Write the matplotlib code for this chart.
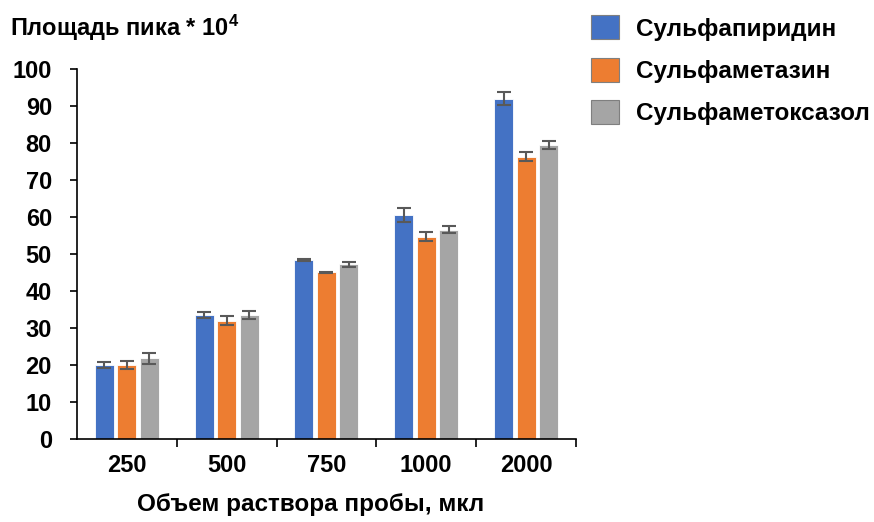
import matplotlib.pyplot as plt
import numpy as np
from matplotlib.patches import Patch

plt.rcParams['font.family'] = ['Liberation Sans', 'DejaVu Sans']
plt.rcParams['font.weight'] = 'bold'
plt.rcParams['mathtext.fontset'] = 'custom'
plt.rcParams['mathtext.rm'] = 'Liberation Sans:bold'
plt.rcParams['mathtext.bf'] = 'Liberation Sans:bold'
plt.rcParams['mathtext.default'] = 'bf'

# data
volumes = ["250", "500", "750", "1000", "2000"]
series = ["Сульфапиридин", "Сульфаметазин", "Сульфаметоксазол"]
sulfapyridine = [20.0, 33.5, 48.3, 60.5, 92.0]
sulfamethazine = [20.0, 32.0, 45.0, 54.7, 76.3]
sulfamethoxazole = [21.8, 33.5, 47.2, 56.6, 79.5]
err_pyridine = [0.9, 0.8, 0.3, 1.9, 1.7]
err_methazine = [1.2, 1.1, 0.2, 1.2, 1.2]
err_methoxazole = [1.5, 1.1, 0.7, 0.9, 1.1]

colors = ['#4472C4', '#ED7D31', '#A5A5A5']

fig = plt.figure(figsize=(8.74, 5.22), dpi=100)
ax = fig.add_axes([0.088, 0.159, 0.571, 0.709])

x = np.arange(len(volumes))
width = 0.19
offset = 0.225
values = [sulfapyridine, sulfamethazine, sulfamethoxazole]
errors = [err_pyridine, err_methazine, err_methoxazole]
for i, (vals, errs) in enumerate(zip(values, errors)):
    ax.bar(x + (i - 1) * offset, vals, width, color=colors[i], edgecolor='white',
           linewidth=0.6, yerr=errs, capsize=5,
           error_kw=dict(ecolor='#595959', elinewidth=1.5, capthick=1.5))

ax.set_xlim(-0.5, len(volumes) - 0.5)
ax.set_ylim(0, 100)
ax.set_yticks(range(0, 101, 10))
ax.set_xticks(x)
ax.set_xticklabels(volumes)
ax.set_xticks(np.arange(0.5, len(volumes) - 0.5 + 0.01, 1.0), minor=True)
ax.tick_params(axis='x', which='major', length=0, labelsize=17, pad=11)
ax.tick_params(axis='x', which='minor', length=6, width=1.2, direction='out')
ax.tick_params(axis='y', length=5, width=1.2, labelsize=17, pad=13)
for lbl in ax.get_xticklabels() + ax.get_yticklabels():
    lbl.set_fontweight('bold')
ax.spines['top'].set_visible(False)
ax.spines['right'].set_visible(False)
ax.spines['left'].set_linewidth(1.2)
ax.spines['bottom'].set_linewidth(1.2)

fig.text(10 / 874, 1 - 28 / 522, "Площадь пика * 10$^{4}$", fontsize=17,
         fontweight='bold', va='center', ha='left')
fig.text(311 / 874, 1 - 505 / 522, "Объем раствора пробы, мкл", fontsize=17.5,
         fontweight='bold', va='center', ha='center')

handles = [Patch(facecolor=c, edgecolor='#7f7f7f', linewidth=0.8) for c in colors]
fig.legend(handles, series, loc='upper left', bbox_to_anchor=(584 / 874, 1 - 8 / 522),
           frameon=False, handlelength=1.15, handleheight=1.15,
           labelspacing=0.7, handletextpad=0.7, borderaxespad=0, borderpad=0.3,
           prop={'weight': 'bold', 'size': 17.5})

fig.savefig("out.png", dpi=100)
